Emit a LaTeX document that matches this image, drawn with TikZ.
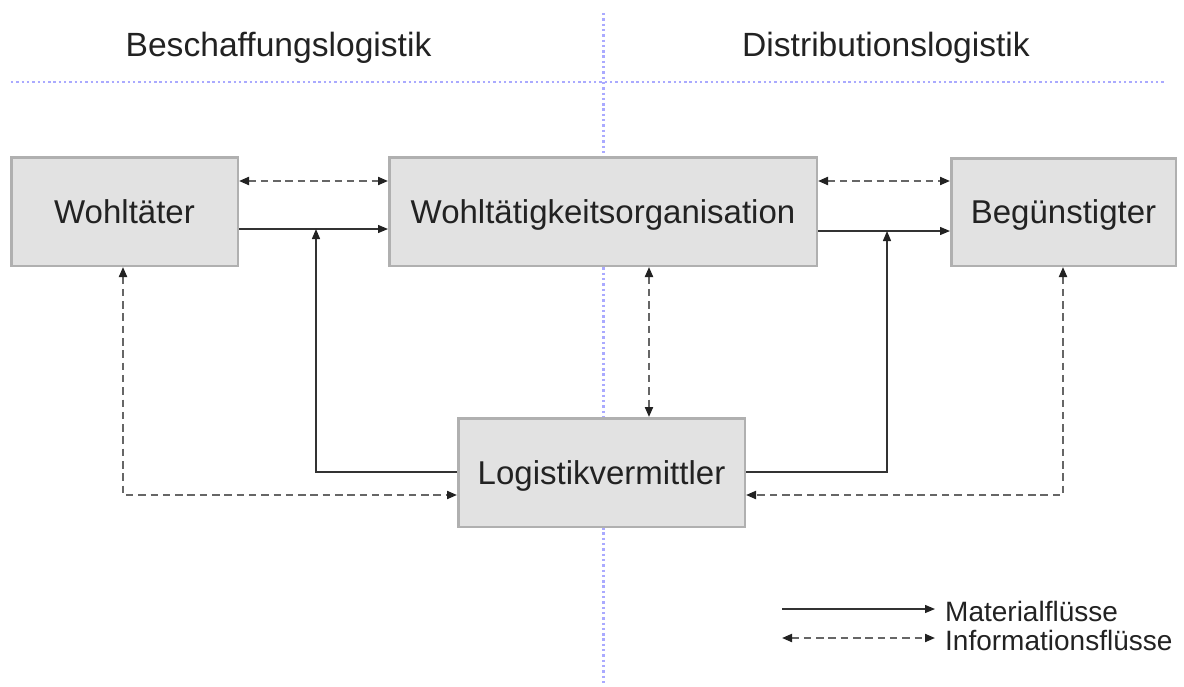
\documentclass[tikz,border=0pt]{standalone}
\usepackage{fontspec}
\setmainfont{Liberation Sans}
\usetikzlibrary{arrows.meta}
\definecolor{boxfill}{HTML}{E2E2E2}
\definecolor{boxline}{HTML}{B0B0B0}
\definecolor{txt}{HTML}{222222}
\definecolor{dotc}{HTML}{AAAAFF}
\definecolor{matc}{HTML}{333333}
\definecolor{infc}{HTML}{666666}
\begin{document}
\begin{tikzpicture}[x=1pt,y=-1pt,
  box/.style={draw=boxline, fill=boxfill, line width=2.5pt, inner sep=0pt,
    text=txt, font=\fontsize{33}{40}\selectfont, text height=23.6pt, text depth=0pt},
  titletext/.style={text=txt, font=\fontsize{33.6}{40}\selectfont, anchor=base, inner sep=0pt},
  legendtext/.style={text=txt, font=\fontsize{28}{33}\selectfont, anchor=base west, inner sep=0pt},
  guide/.style={draw=dotc, line width=2.4pt, dash pattern=on 2.4pt off 2.9pt},
  mat/.style={draw=matc, line width=1.3pt, -{Triangle[length=10pt,width=8pt,color=txt]}},
  inf/.style={draw=infc, line width=2pt, dash pattern=on 7.5pt off 4.8pt,
    {Triangle[length=10pt,width=8pt,color=txt]}-{Triangle[length=10pt,width=8pt,color=txt]}},
]
\useasboundingbox (0,0) rectangle (1184,686);

% guide lines
\coordinate (hA) at (11,81.7);
\coordinate (hB) at (1165,81.7);
\coordinate (vA) at (603.3,13);
\coordinate (vB) at (603.3,686);
\draw[guide] (hA) -- (hB);
\draw[guide] (vA) -- (vB);

% titles
\node[titletext] (t1) at (278.5,56.7) {Beschaffungslogistik};
\node[titletext] (t2) at (886,56.7) {Distributionslogistik};

% boxes
\node[box, minimum width=226.5pt, minimum height=108.5pt] (W) at (124.5,211.5) {Wohltäter};
\node[box, minimum width=427.5pt, minimum height=108.5pt] (O) at (603,211.5) {Wohltätigkeitsorganisation};
\node[box, minimum width=224.5pt, minimum height=107.5pt] (B) at (1063.5,212) {Begünstigter};
\node[box, minimum width=286.5pt, minimum height=108.5pt] (L) at (601.5,472.5) {Logistikvermittler};

% helper coordinates
\coordinate (yI) at (0,181);
\coordinate (yM1) at (0,229);
\coordinate (yM2) at (0,231);
\coordinate (xM1) at (316,0);
\coordinate (xM2) at (887,0);
\coordinate (yLm) at (0,472);
\coordinate (yLi) at (0,495);
\coordinate (xI1) at (123,0);
\coordinate (xI2) at (1063,0);
\coordinate (xI3) at (649,0);

% information flows
\draw[inf] (W.east |- yI) -- (O.west |- yI);
\draw[inf] (O.east |- yI) -- (B.west |- yI);
\draw[inf] (W.south -| xI1) -- (xI1 |- yLi) -- (L.west |- yLi);
\draw[inf] (B.south -| xI2) -- (xI2 |- yLi) -- (L.east |- yLi);
\draw[inf] (O.south -| xI3) -- (L.north -| xI3);

% material flows
\draw[mat] (W.east |- yM1) -- (O.west |- yM1);
\draw[mat] (O.east |- yM2) -- (B.west |- yM2);
\draw[mat] (L.west |- yLm) -| (xM1 |- yM1);
\draw[mat] (L.east |- yLm) -| (xM2 |- yM2);

% legend
\coordinate (lgA) at (782,609);
\coordinate (lgB) at (935,609);
\coordinate (lgC) at (782,638);
\coordinate (lgD) at (935,638);
\draw[mat] (lgA) -- (lgB);
\draw[inf] (lgC) -- (lgD);
\node[legendtext] (lm) at (945,621.7) {Materialflüsse};
\node[legendtext] (li) at (945,650.5) {Informationsflüsse};
\end{tikzpicture}
\end{document}
